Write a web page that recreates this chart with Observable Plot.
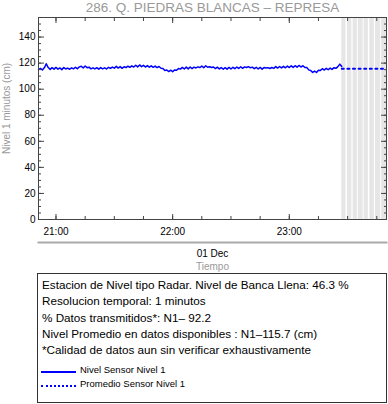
<!DOCTYPE html>
<html><head><meta charset="utf-8">
<script src="https://cdn.jsdelivr.net/npm/d3@7"></script>
<script src="https://cdn.jsdelivr.net/npm/@observablehq/plot@0.6"></script>
<style>
body{margin:0;background:#fff;font-family:"Liberation Sans",Arial,Helvetica,sans-serif;position:relative;width:388px;height:404px;overflow:hidden}
#chart svg{display:block}
#box{position:absolute;left:37px;top:273px;width:350px;height:130px;box-sizing:border-box;border:1px solid #333;color:#000}
#box .ln{position:absolute;left:4px;font-size:11.7px;line-height:14px;white-space:nowrap}
#box .lg{position:absolute;left:42px;font-size:9.5px;line-height:12px;white-space:nowrap}
#box .sw{position:absolute;left:3px;width:35px}
</style></head><body>
<div id="chart"></div>
<div id="box"></div>
<script>
// ---- data ----
const title = "286. Q. PIEDRAS BLANCAS \u2013 REPRESA";
const yLabel = "Nivel 1 minutos (cm)";
const xDateLabel = "01 Dec";
const xTitle = "Tiempo";
const startTime = "20:51:00";           // first 1-minute sample
const domainStart = "20:51:00";
const domainEnd = "23:50:00";
const levels = [
 115.0,115.9,114.7,116.4,119.5,116.6,115.2,116.5,115.4,116.7,
 115.3,116.3,115.0,116.6,115.5,116.2,115.3,116.4,115.6,116.8,
 115.7,117.1,117.6,116.3,117.8,116.5,116.9,115.6,116.4,115.5,
 116.5,115.4,116.6,115.6,116.4,115.5,116.8,115.9,117.0,116.1,
 117.5,116.2,117.3,116.0,117.2,116.6,117.6,116.8,117.9,117.0,
 118.4,117.1,118.6,117.3,118.3,117.0,118.1,116.9,117.9,116.8,
 117.7,116.6,117.4,116.1,115.9,114.4,114.7,113.5,114.6,113.4,
 114.8,114.5,115.8,115.4,116.7,115.5,116.9,115.6,117.0,115.8,
 116.9,116.3,117.1,116.6,117.8,116.4,118.0,116.8,117.2,116.6,
 117.0,115.8,116.9,115.5,116.6,115.3,116.5,115.4,116.7,115.5,
 116.8,115.7,117.0,115.9,117.2,116.0,117.1,116.6,117.3,116.4,
 116.9,115.7,116.8,115.5,116.7,115.4,116.6,116.2,116.5,115.9,
 116.6,116.0,117.3,116.2,117.4,116.3,117.5,116.4,117.7,116.6,
 117.9,116.7,118.0,116.9,118.2,117.0,118.0,116.6,116.6,114.8,
 114.3,112.9,113.9,112.8,114.5,114.4,115.7,114.7,116.0,114.9,
 116.2,115.2,116.5,116.0,117.3,119.2,117.4
];
const meanLevel = 115.7;
const meanTimes = ["23:27:00","23:50:00"];
const gapStarts = ["23:27:00","23:29:55","23:32:50","23:35:30","23:38:30","23:41:25","23:44:20","23:47:30"];
const gapEnds   = ["23:29:10","23:32:10","23:35:00","23:38:00","23:40:40","23:43:45","23:47:00","23:50:00"];
const yMajorTicks = [0,20,40,60,80,100,120,140];
const xMajorTicks = ["21:00:00","22:00:00","23:00:00"];
const infoLines = [
 "Estacion de Nivel tipo Radar. Nivel de Banca Llena: 46.3 %",
 "Resolucion temporal: 1 minutos",
 "% Datos transmitidos*: N1\u2013 92.2",
 "Nivel Promedio en datos disponibles : N1\u2013115.7 (cm)",
 "*Calidad de datos aun sin verificar exhaustivamente"
];
const legendNames = ["Nivel Sensor Nivel 1","Promedio Sensor Nivel 1"];

// ---- build ----
const t = s => { const [h,m,sec] = s.split(":").map(Number); return new Date(Date.UTC(2000,11,1,h,m,sec||0)); };
const t0 = t(startTime).getTime();
const series = levels.map((v,i)=>({time:new Date(t0+i*60000), v}));
const meanLine = meanTimes.map(s=>({time:t(s), v:meanLevel}));
const gaps = gapStarts.map((s,i)=>({s:t(s), e:t(gapEnds[i])}));
const xDomain = [t(domainStart), t(domainEnd)];
const xMajor = xMajorTicks.map(t);
const xMinor = d3.utcMinute.every(15).range(xDomain[0], xDomain[1]);
const yMinor = d3.range(0, 156, 5);
const axisColor = "#444";

const plot = Plot.plot({
  width: 388, height: 273,
  marginLeft: 38, marginRight: 2, marginTop: 17, marginBottom: 54,
  style: {fontFamily: "Liberation Sans, Arial, Helvetica, sans-serif", fontSize: "10px", background: "white", color: "#000"},
  x: {type: "utc", domain: xDomain},
  y: {domain: [0, 155]},
  marks: [
    Plot.rect(gaps, {x1: "s", x2: "e", fill: "#e6e6e6"}),
    Plot.line(series, {x: "time", y: "v", stroke: "#0000ff", strokeWidth: 1.5}),
    Plot.line(meanLine, {x: "time", y: "v", stroke: "#0000ff", strokeWidth: 2, strokeDasharray: "2,3.6"}),
    Plot.frame({stroke: axisColor}),
    Plot.axisY({anchor: "left", ticks: yMajorTicks, tickSize: -6, fill: "none", label: null, stroke: axisColor}),
    Plot.axisY({anchor: "left", ticks: yMinor, tickSize: -3, fill: "none", label: null, stroke: axisColor}),
    Plot.axisY({anchor: "right", ticks: yMajorTicks, tickSize: -6, fill: "none", label: null, stroke: axisColor}),
    Plot.axisY({anchor: "right", ticks: yMinor, tickSize: -3, fill: "none", label: null, stroke: axisColor}),
    Plot.axisY({anchor: "left", ticks: yMajorTicks, tickSize: 0, tickPadding: 3, fill: "#000", label: null}),
    Plot.axisX({anchor: "bottom", ticks: xMajor, tickSize: -5, fill: "none", label: null, stroke: axisColor}),
    Plot.axisX({anchor: "bottom", ticks: xMinor, tickSize: -3, fill: "none", label: null, stroke: axisColor}),
    Plot.axisX({anchor: "top", ticks: xMajor, tickSize: -5, fill: "none", label: null, stroke: axisColor}),
    Plot.axisX({anchor: "top", ticks: xMinor, tickSize: -3, fill: "none", label: null, stroke: axisColor}),
    Plot.axisX({anchor: "bottom", ticks: xMajor, tickSize: 0, tickPadding: 8, tickFormat: d3.utcFormat("%H:%M"), fill: "#000", label: null}),
    Plot.frame({anchor: "bottom", dy: 23, stroke: "#aaa", strokeWidth: 2}),
    Plot.text([xDateLabel], {frameAnchor: "bottom", dy: 34, lineAnchor: "middle", textAnchor: "middle", fill: "#000", fontSize: 10}),
    Plot.text([xTitle], {frameAnchor: "bottom", dy: 47, lineAnchor: "middle", textAnchor: "middle", fill: "#999", fontSize: 10}),
    Plot.text([title], {frameAnchor: "top", dy: -10, lineAnchor: "middle", textAnchor: "middle", fill: "#999", fontSize: 13.5}),
    Plot.text([yLabel], {frameAnchor: "left", dx: -32, dy: -10, rotate: -90, lineAnchor: "middle", textAnchor: "middle", fill: "#999", fontSize: 10})
  ]
});
document.getElementById("chart").appendChild(plot);

// info box (caption below the SVG)
const box = document.getElementById("box");
infoLines.forEach((s,i)=>{
  const d = document.createElement("div");
  d.className = "ln"; d.textContent = s;
  d.style.top = (4 + i*16.3) + "px";
  box.appendChild(d);
});
const swStyles = [
  {height: "2px", background: "#0000ff"},
  {height: "0px", borderTop: "2px dotted #0000ff"}
];
legendNames.forEach((s,i)=>{
  const y = 97 + i*14;
  const sw = document.createElement("div");
  sw.className = "sw"; Object.assign(sw.style, swStyles[i]); sw.style.top = y + "px";
  box.appendChild(sw);
  const d = document.createElement("div");
  d.className = "lg"; d.textContent = s; d.style.top = (y - 7) + "px";
  box.appendChild(d);
});
</script>
</body></html>
